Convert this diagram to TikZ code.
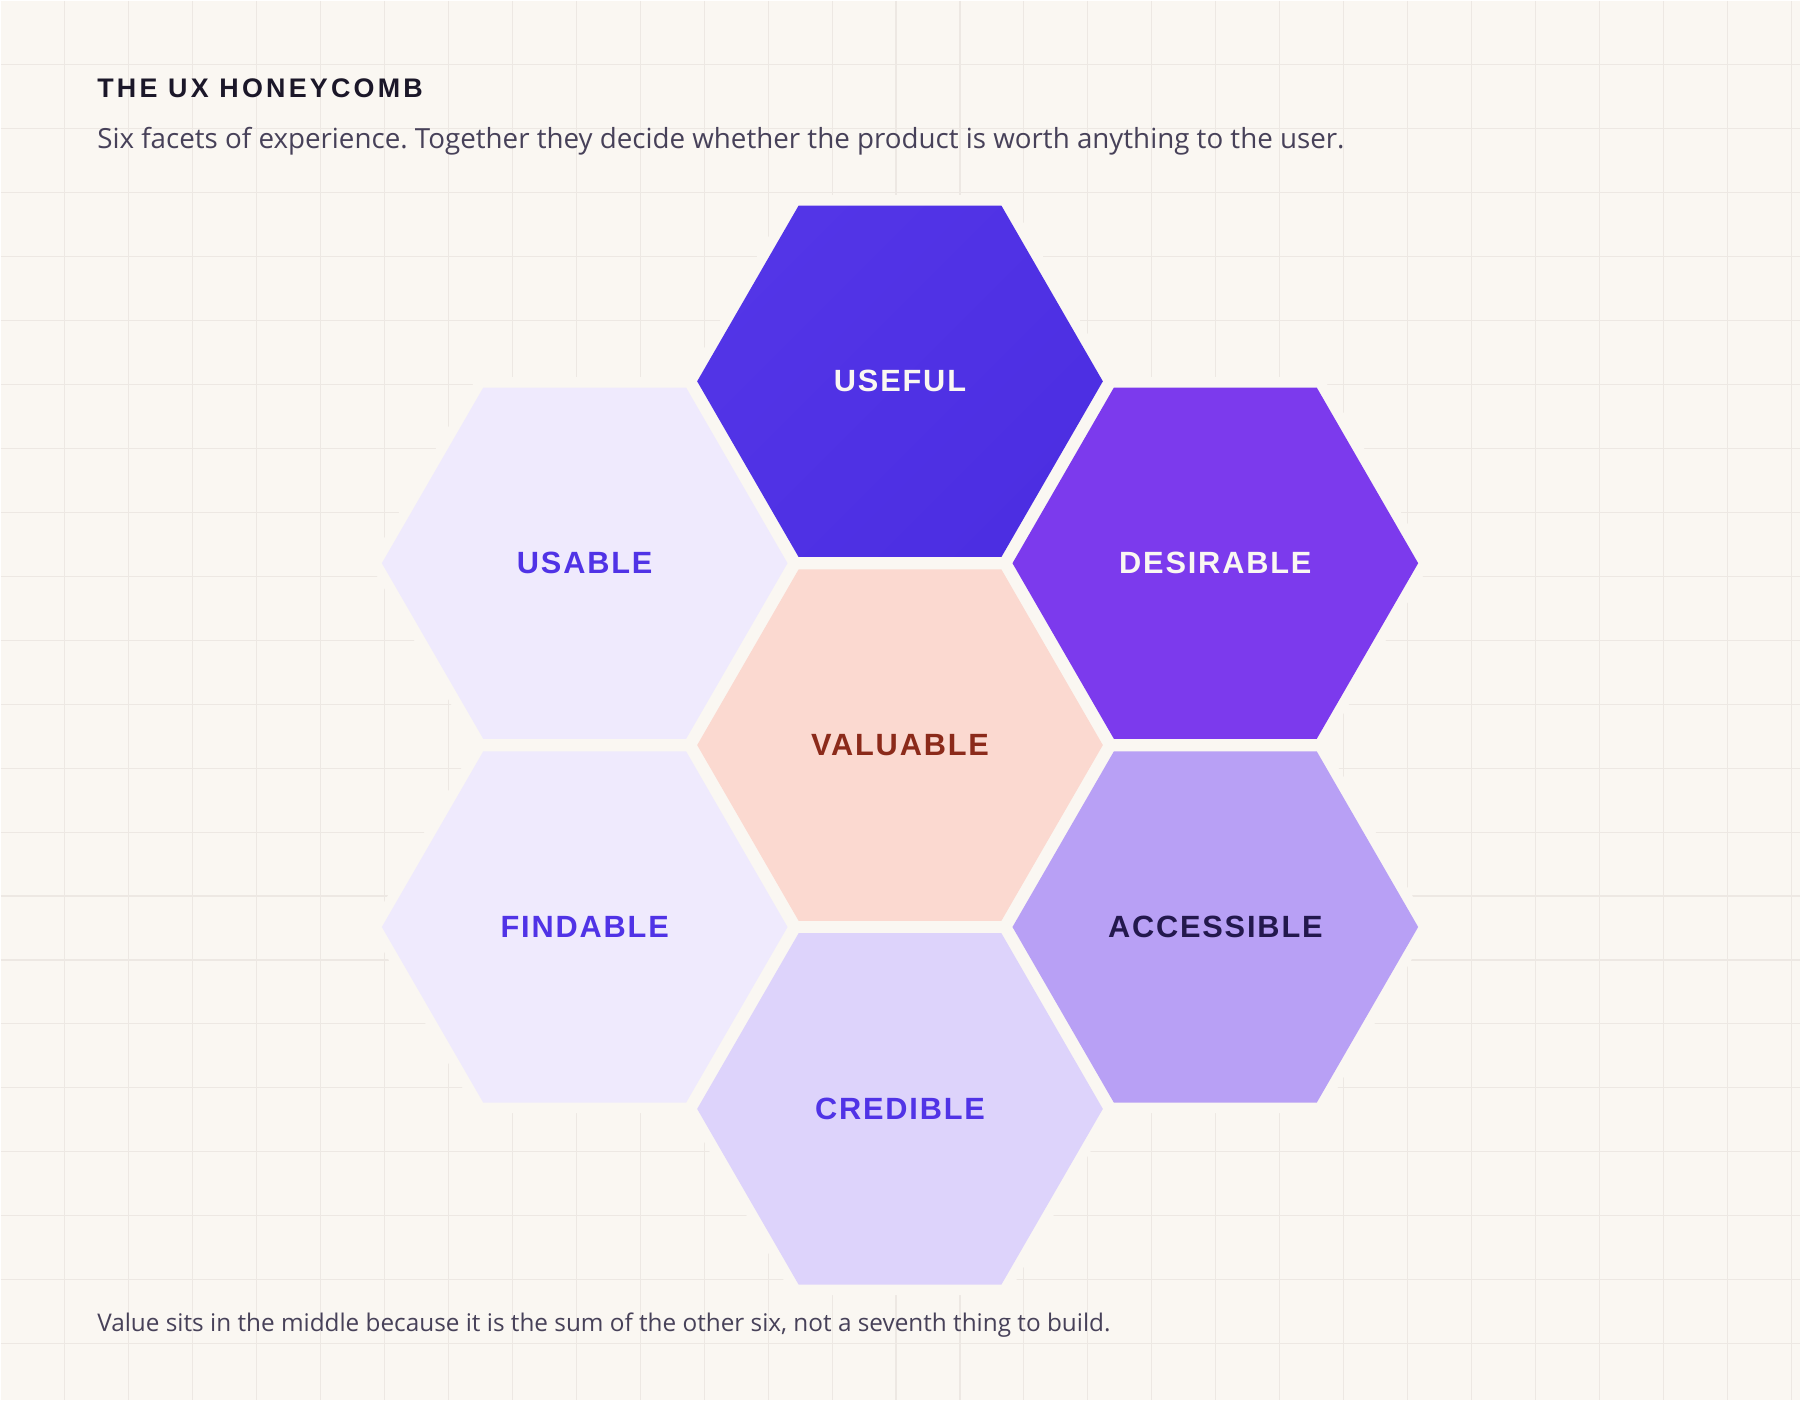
\documentclass[tikz,border=0pt]{standalone}
\usepackage{fontspec}
\setmainfont{Liberation Sans}
\newfontfamily\bodyfont{Open Sans}
\newfontfamily\trackedfont[LetterSpace=12]{Liberation Sans}
\newfontfamily\facetfont[LetterSpace=6]{Liberation Sans}
\usetikzlibrary{shapes.geometric}
\frenchspacing

\definecolor{paper}{HTML}{FAF7F2}
\definecolor{gridc}{HTML}{EDE8E3}
\definecolor{ink}{HTML}{1B1729}
\definecolor{muted}{HTML}{474159}
\definecolor{indigo}{HTML}{5033E6}
\definecolor{indigodark}{HTML}{4C2EE2}
\definecolor{indigolight}{HTML}{5335E7}
\definecolor{violet}{HTML}{7C3AED}
\definecolor{lilac}{HTML}{EFEAFD}
\definecolor{lavender}{HTML}{DDD3FB}
\definecolor{wisteria}{HTML}{B8A0F5}
\definecolor{peach}{HTML}{FBD9D0}
\definecolor{rust}{HTML}{8B2A1A}
\definecolor{night}{HTML}{23184D}

\tikzset{
  hexfacet/.style={regular polygon, regular polygon sides=6, minimum size=8.12cm,
    inner sep=0pt, preaction={draw=paper, line width=12pt, line join=round},
    font=\facetfont\bfseries\fontsize{17.5}{20}\selectfont},
  gridline/.style={draw=gridc, line width=0.6pt},
  caption/.style={anchor=base west, inner sep=0pt, text=muted}
}

\begin{document}
\begin{tikzpicture}[x=0.02cm, y=-0.02cm]
\fill[paper] (0,0) rectangle (1800,1400);
\foreach \gx in {64,128,...,1792} \draw[gridline] (\gx,0) -- (\gx,1400);
\foreach \gy in {64,128,...,1344} \draw[gridline] (0,\gy) -- (1800,\gy);

\node[anchor=base west, inner sep=0pt, text=ink, font=\trackedfont\bfseries\fontsize{15.3}{18}\selectfont] (title) at (96.5,96.7) {THE UX HONEYCOMB};
\node[caption, font=\bodyfont\fontsize{15.8}{18}\selectfont] (subtitle) at (96.5,148.3) {Six facets of experience. Together they decide whether the product is worth anything to the user.};

\node[hexfacet, top color=indigolight, bottom color=indigodark, shading angle=45, text=paper] (useful) at (900,381) {USEFUL};
\node[hexfacet, fill=lilac, text=indigo] (usable) at (584.5,563) {USABLE};
\node[hexfacet, fill=violet, text=paper] (desirable) at (1215.5,563) {DESIRABLE};
\node[hexfacet, fill=peach, text=rust] (valuable) at (900,745) {VALUABLE};
\node[hexfacet, fill=lilac, text=indigo] (findable) at (584.5,927) {FINDABLE};
\node[hexfacet, fill=wisteria, text=night] (accessible) at (1215.5,927) {ACCESSIBLE};
\node[hexfacet, fill=lavender, text=indigo] (credible) at (900,1109) {CREDIBLE};

\node[caption, font=\bodyfont\fontsize{13.85}{16}\selectfont] (footer) at (96.5,1331.7) {Value sits in the middle because it is the sum of the other six, not a seventh thing to build.};
\end{tikzpicture}
\end{document}
